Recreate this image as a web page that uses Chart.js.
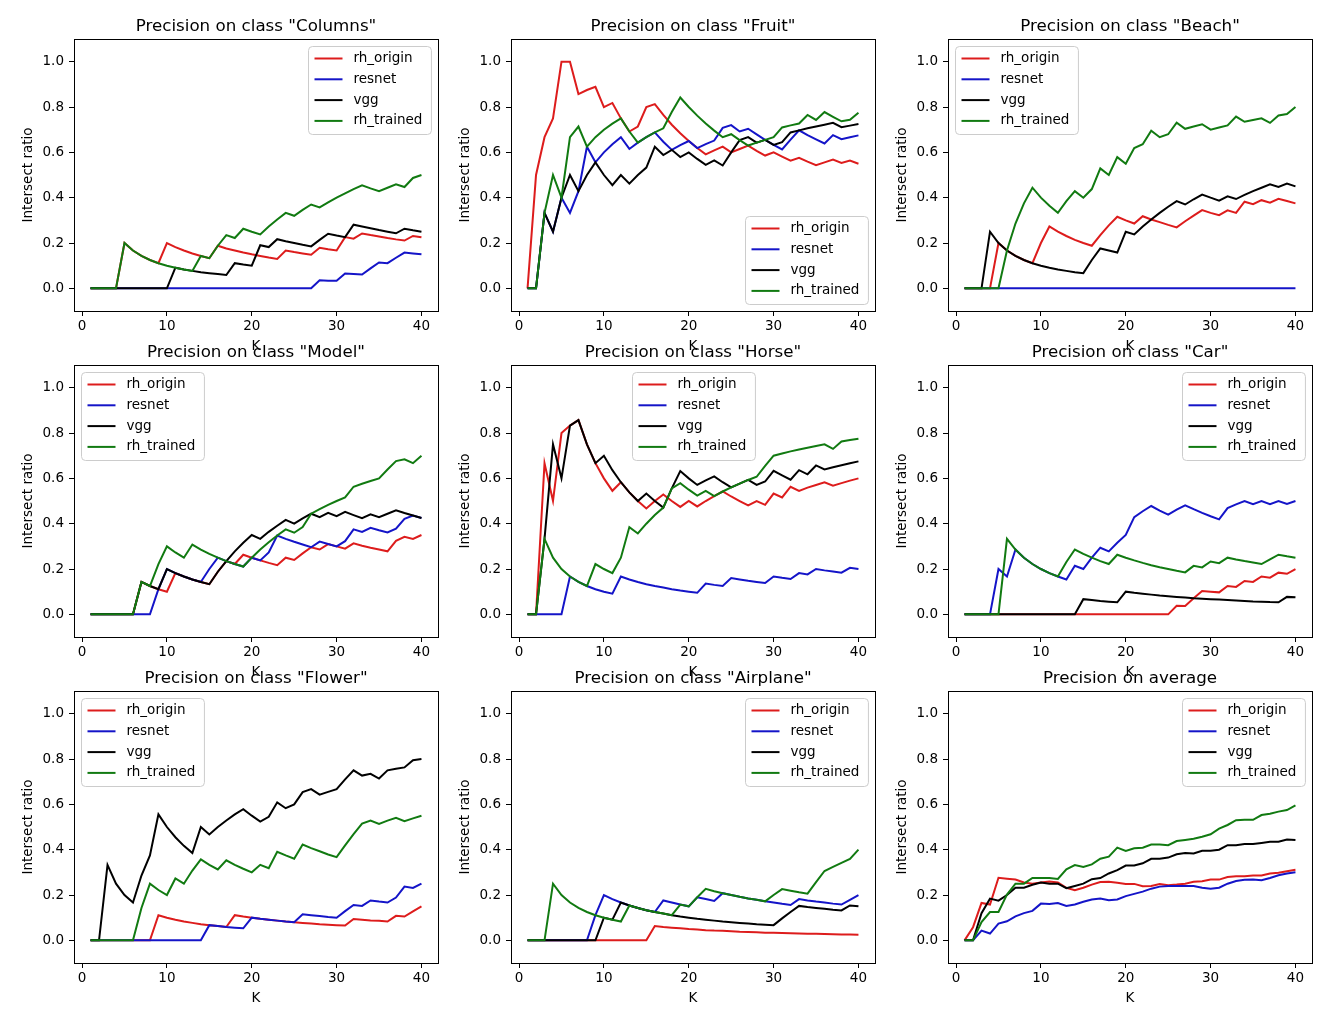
<!DOCTYPE html>
<html>
<head>
<meta charset="utf-8">
<script src="https://cdn.jsdelivr.net/npm/chart.js@4.4.1/dist/chart.umd.min.js"></script>
<style>
  body { margin: 0; background: #fff; }
  #fig { position: relative; width: 1341px; height: 1023px; overflow: hidden; }
  #fig canvas { position: absolute; }
</style>
</head>
<body>
<div id="fig"></div>
<script>
// K values and tick labels
const K = [1,2,3,4,5,6,7,8,9,10,11,12,13,14,15,16,17,18,19,20,21,22,23,24,25,26,27,28,29,30,31,32,33,34,35,36,37,38,39,40];
const X_TICKS = [0, 10, 20, 30, 40];
const Y_TICKS = [0.0, 0.2, 0.4, 0.6, 0.8, 1.0];
const SERIES_NAMES = ['rh_origin', 'resnet', 'vgg', 'rh_trained'];

// Columns
const columnsOrigin = [0,0,0,0,0.2,0.167,0.143,0.125,0.111,0.2,0.182,0.167,0.154,0.143,0.133,0.188,0.176,0.167,0.158,0.15,0.143,0.136,0.13,0.167,0.16,0.154,0.148,0.179,0.172,0.167,0.226,0.219,0.242,0.235,0.229,0.222,0.216,0.211,0.231,0.225];
const columnsResnet = [0,0,0,0,0,0,0,0,0,0,0,0,0,0,0,0,0,0,0,0,0,0,0,0,0,0,0,0.036,0.034,0.033,0.065,0.063,0.061,0.088,0.114,0.111,0.135,0.158,0.154,0.15];
const columnsVgg = [0,0,0,0,0,0,0,0,0,0,0.091,0.083,0.077,0.071,0.067,0.063,0.059,0.111,0.105,0.1,0.19,0.182,0.217,0.208,0.2,0.192,0.185,0.214,0.241,0.233,0.226,0.281,0.273,0.265,0.257,0.25,0.243,0.263,0.256,0.25];
const columnsTrained = [0,0,0,0,0.2,0.167,0.143,0.125,0.111,0.1,0.091,0.083,0.077,0.143,0.133,0.188,0.235,0.222,0.263,0.25,0.238,0.273,0.304,0.333,0.32,0.346,0.37,0.357,0.379,0.4,0.419,0.438,0.455,0.441,0.429,0.444,0.459,0.447,0.487,0.5];

// Fruit
const fruitOrigin = [0,0.5,0.667,0.75,1,1,0.857,0.875,0.889,0.8,0.818,0.75,0.692,0.714,0.8,0.813,0.765,0.722,0.684,0.65,0.619,0.591,0.609,0.625,0.6,0.615,0.63,0.607,0.586,0.6,0.581,0.563,0.576,0.559,0.543,0.556,0.568,0.553,0.564,0.55];
const fruitResnet = [0,0,0.333,0.25,0.4,0.333,0.429,0.625,0.556,0.6,0.636,0.667,0.615,0.643,0.667,0.688,0.647,0.611,0.632,0.65,0.619,0.636,0.652,0.708,0.72,0.692,0.704,0.679,0.655,0.633,0.613,0.656,0.697,0.676,0.657,0.639,0.676,0.658,0.667,0.675];
const fruitVgg = [0,0,0.333,0.25,0.4,0.5,0.429,0.5,0.556,0.5,0.455,0.5,0.462,0.5,0.533,0.625,0.588,0.611,0.579,0.6,0.571,0.545,0.565,0.542,0.6,0.654,0.667,0.643,0.655,0.633,0.645,0.688,0.697,0.706,0.714,0.722,0.73,0.711,0.718,0.725];
const fruitTrained = [0,0,0.333,0.5,0.4,0.667,0.714,0.625,0.667,0.7,0.727,0.75,0.692,0.643,0.667,0.688,0.706,0.778,0.842,0.8,0.762,0.727,0.696,0.667,0.68,0.654,0.63,0.643,0.655,0.667,0.71,0.719,0.727,0.765,0.743,0.778,0.757,0.737,0.744,0.775];

// Beach
const beachOrigin = [0,0,0,0,0.2,0.167,0.143,0.125,0.111,0.2,0.273,0.25,0.231,0.214,0.2,0.188,0.235,0.278,0.316,0.3,0.286,0.318,0.304,0.292,0.28,0.269,0.296,0.321,0.345,0.333,0.323,0.344,0.333,0.382,0.371,0.389,0.378,0.395,0.385,0.375];
const beachResnet = [0,0,0,0,0,0,0,0,0,0,0,0,0,0,0,0,0,0,0,0,0,0,0,0,0,0,0,0,0,0,0,0,0,0,0,0,0,0,0,0];
const beachVgg = [0,0,0,0.25,0.2,0.167,0.143,0.125,0.111,0.1,0.091,0.083,0.077,0.071,0.067,0.125,0.176,0.167,0.158,0.25,0.238,0.273,0.304,0.333,0.36,0.385,0.37,0.393,0.414,0.4,0.387,0.406,0.394,0.412,0.429,0.444,0.459,0.447,0.462,0.45];
const beachTrained = [0,0,0,0,0,0.167,0.286,0.375,0.444,0.4,0.364,0.333,0.385,0.429,0.4,0.438,0.529,0.5,0.579,0.55,0.619,0.636,0.696,0.667,0.68,0.731,0.704,0.714,0.724,0.7,0.71,0.719,0.758,0.735,0.743,0.75,0.73,0.763,0.769,0.8];

// Model
const modelOrigin = [0,0,0,0,0,0,0.143,0.125,0.111,0.1,0.182,0.167,0.154,0.143,0.133,0.188,0.235,0.222,0.263,0.25,0.238,0.227,0.217,0.25,0.24,0.269,0.296,0.286,0.31,0.3,0.29,0.313,0.303,0.294,0.286,0.278,0.324,0.342,0.333,0.35];
const modelResnet = [0,0,0,0,0,0,0,0,0.111,0.2,0.182,0.167,0.154,0.143,0.2,0.25,0.235,0.222,0.211,0.25,0.238,0.273,0.348,0.333,0.32,0.308,0.296,0.321,0.31,0.3,0.323,0.375,0.364,0.382,0.371,0.361,0.378,0.421,0.436,0.425];
const modelVgg = [0,0,0,0,0,0,0.143,0.125,0.111,0.2,0.182,0.167,0.154,0.143,0.133,0.188,0.235,0.278,0.316,0.35,0.333,0.364,0.391,0.417,0.4,0.423,0.444,0.429,0.448,0.433,0.452,0.438,0.424,0.441,0.429,0.444,0.459,0.447,0.436,0.425];
const modelTrained = [0,0,0,0,0,0,0.143,0.125,0.222,0.3,0.273,0.25,0.308,0.286,0.267,0.25,0.235,0.222,0.211,0.25,0.286,0.318,0.348,0.375,0.36,0.385,0.444,0.464,0.483,0.5,0.516,0.563,0.576,0.588,0.6,0.639,0.676,0.684,0.667,0.7];

// Horse
const horseOrigin = [0,0,0.667,0.5,0.8,0.833,0.857,0.75,0.667,0.6,0.545,0.583,0.538,0.5,0.467,0.5,0.529,0.5,0.474,0.5,0.476,0.5,0.522,0.542,0.52,0.5,0.481,0.5,0.483,0.533,0.516,0.563,0.545,0.559,0.571,0.583,0.568,0.579,0.59,0.6];
const horseResnet = [0,0,0,0,0,0.167,0.143,0.125,0.111,0.1,0.091,0.167,0.154,0.143,0.133,0.125,0.118,0.111,0.105,0.1,0.095,0.136,0.13,0.125,0.16,0.154,0.148,0.143,0.138,0.167,0.161,0.156,0.182,0.176,0.2,0.194,0.189,0.184,0.205,0.2];
const horseVgg = [0,0,0.333,0.75,0.6,0.833,0.857,0.75,0.667,0.7,0.636,0.583,0.538,0.5,0.533,0.5,0.471,0.556,0.632,0.6,0.571,0.591,0.609,0.583,0.56,0.577,0.593,0.571,0.586,0.633,0.613,0.594,0.636,0.618,0.657,0.639,0.649,0.658,0.667,0.675];
const horseTrained = [0,0,0.333,0.25,0.2,0.167,0.143,0.125,0.222,0.2,0.182,0.25,0.385,0.357,0.4,0.438,0.471,0.556,0.579,0.55,0.524,0.545,0.522,0.542,0.56,0.577,0.593,0.607,0.655,0.7,0.71,0.719,0.727,0.735,0.743,0.75,0.73,0.763,0.769,0.775];

// Car
const carOrigin = [0,0,0,0,0,0,0,0,0,0,0,0,0,0,0,0,0,0,0,0,0,0,0,0,0,0.038,0.037,0.071,0.103,0.1,0.097,0.125,0.121,0.147,0.143,0.167,0.162,0.184,0.179,0.2];
const carResnet = [0,0,0,0,0.2,0.167,0.286,0.25,0.222,0.2,0.182,0.167,0.154,0.214,0.2,0.25,0.294,0.278,0.316,0.35,0.429,0.455,0.478,0.458,0.44,0.462,0.481,0.464,0.448,0.433,0.419,0.469,0.485,0.5,0.486,0.5,0.486,0.5,0.487,0.5];
const carVgg = [0,0,0,0,0,0,0,0,0,0,0,0,0,0,0.067,0.063,0.059,0.056,0.053,0.1,0.095,0.091,0.087,0.083,0.08,0.077,0.074,0.071,0.069,0.067,0.065,0.063,0.061,0.059,0.057,0.056,0.054,0.053,0.077,0.075];
const carTrained = [0,0,0,0,0,0.333,0.286,0.25,0.222,0.2,0.182,0.167,0.231,0.286,0.267,0.25,0.235,0.222,0.263,0.25,0.238,0.227,0.217,0.208,0.2,0.192,0.185,0.214,0.207,0.233,0.226,0.25,0.242,0.235,0.229,0.222,0.243,0.263,0.256,0.25];

// Flower
const flowerOrigin = [0,0,0,0,0,0,0,0,0.111,0.1,0.091,0.083,0.077,0.071,0.067,0.063,0.059,0.111,0.105,0.1,0.095,0.091,0.087,0.083,0.08,0.077,0.074,0.071,0.069,0.067,0.065,0.094,0.091,0.088,0.086,0.083,0.108,0.105,0.128,0.15];
const flowerResnet = [0,0,0,0,0,0,0,0,0,0,0,0,0,0,0.067,0.063,0.059,0.056,0.053,0.1,0.095,0.091,0.087,0.083,0.08,0.115,0.111,0.107,0.103,0.1,0.129,0.156,0.152,0.176,0.171,0.167,0.189,0.237,0.231,0.25];
const flowerVgg = [0,0,0.333,0.25,0.2,0.167,0.286,0.375,0.556,0.5,0.455,0.417,0.385,0.5,0.467,0.5,0.529,0.556,0.579,0.55,0.524,0.545,0.609,0.583,0.6,0.654,0.667,0.643,0.655,0.667,0.71,0.75,0.727,0.735,0.714,0.75,0.757,0.763,0.795,0.8];
const flowerTrained = [0,0,0,0,0,0,0.143,0.25,0.222,0.2,0.273,0.25,0.308,0.357,0.333,0.313,0.353,0.333,0.316,0.3,0.333,0.318,0.391,0.375,0.36,0.423,0.407,0.393,0.379,0.367,0.419,0.469,0.515,0.529,0.514,0.528,0.541,0.526,0.538,0.55];

// Airplane
const airplaneOrigin = [0,0,0,0,0,0,0,0,0,0,0,0,0,0,0,0.063,0.059,0.056,0.053,0.05,0.048,0.045,0.043,0.042,0.04,0.038,0.037,0.036,0.034,0.033,0.032,0.031,0.03,0.029,0.029,0.028,0.027,0.026,0.026,0.025];
const airplaneResnet = [0,0,0,0,0,0,0,0,0.111,0.2,0.182,0.167,0.154,0.143,0.133,0.125,0.176,0.167,0.158,0.15,0.19,0.182,0.174,0.208,0.2,0.192,0.185,0.179,0.172,0.167,0.161,0.156,0.182,0.176,0.171,0.167,0.162,0.158,0.179,0.2];
const airplaneVgg = [0,0,0,0,0,0,0,0,0,0.1,0.091,0.167,0.154,0.143,0.133,0.125,0.118,0.111,0.105,0.1,0.095,0.091,0.087,0.083,0.08,0.077,0.074,0.071,0.069,0.067,0.097,0.125,0.152,0.147,0.143,0.139,0.135,0.132,0.154,0.15];
const airplaneTrained = [0,0,0,0.25,0.2,0.167,0.143,0.125,0.111,0.1,0.091,0.083,0.154,0.143,0.133,0.125,0.118,0.111,0.158,0.15,0.19,0.227,0.217,0.208,0.2,0.192,0.185,0.179,0.172,0.2,0.226,0.219,0.212,0.206,0.257,0.306,0.324,0.342,0.359,0.4];

// Average
const averageOrigin = [0,0.058,0.165,0.158,0.276,0.272,0.268,0.255,0.25,0.255,0.26,0.255,0.232,0.221,0.232,0.246,0.257,0.258,0.254,0.249,0.249,0.239,0.24,0.249,0.243,0.246,0.25,0.258,0.261,0.268,0.268,0.279,0.283,0.283,0.286,0.286,0.295,0.298,0.305,0.311];
const averageResnet = [0,0,0.043,0.03,0.074,0.084,0.106,0.12,0.13,0.162,0.16,0.165,0.152,0.158,0.17,0.18,0.185,0.177,0.18,0.195,0.205,0.215,0.228,0.237,0.24,0.24,0.24,0.24,0.232,0.228,0.232,0.25,0.262,0.267,0.268,0.265,0.275,0.287,0.295,0.3];
const averageVgg = [0,0,0.12,0.184,0.175,0.2,0.232,0.232,0.245,0.255,0.25,0.25,0.23,0.24,0.25,0.27,0.275,0.295,0.31,0.33,0.33,0.34,0.36,0.36,0.365,0.38,0.385,0.383,0.395,0.395,0.4,0.42,0.42,0.425,0.425,0.43,0.435,0.435,0.445,0.443];
const averageTrained = [0,0,0.081,0.125,0.125,0.202,0.25,0.25,0.275,0.275,0.275,0.271,0.313,0.332,0.324,0.335,0.36,0.369,0.409,0.394,0.406,0.409,0.423,0.423,0.42,0.438,0.443,0.448,0.457,0.468,0.493,0.509,0.53,0.532,0.532,0.553,0.559,0.568,0.575,0.596];

const panels = [
  { title: 'Precision on class "Columns"', legend: 'upper right', series: [columnsOrigin, columnsResnet, columnsVgg, columnsTrained] },
  { title: 'Precision on class "Fruit"', legend: 'lower right', series: [fruitOrigin, fruitResnet, fruitVgg, fruitTrained] },
  { title: 'Precision on class "Beach"', legend: 'upper left', series: [beachOrigin, beachResnet, beachVgg, beachTrained] },
  { title: 'Precision on class "Model"', legend: 'upper left', series: [modelOrigin, modelResnet, modelVgg, modelTrained] },
  { title: 'Precision on class "Horse"', legend: 'upper center', series: [horseOrigin, horseResnet, horseVgg, horseTrained] },
  { title: 'Precision on class "Car"', legend: 'upper right', series: [carOrigin, carResnet, carVgg, carTrained] },
  { title: 'Precision on class "Flower"', legend: 'upper left', series: [flowerOrigin, flowerResnet, flowerVgg, flowerTrained] },
  { title: 'Precision on class "Airplane"', legend: 'upper right', series: [airplaneOrigin, airplaneResnet, airplaneVgg, airplaneTrained] },
  { title: 'Precision on average', legend: 'upper right', series: [averageOrigin, averageResnet, averageVgg, averageTrained] },
];

// look
const COLORS = ['#dd1c1c', '#1414c8', '#000000', '#117a11'];
const FAMILY = '"DejaVu Sans", sans-serif';
const SMALL = 13.5;
const AX_LEFT = [74, 511, 948];
const AX_TOP = [39, 365, 691];
const AX_W = 364, AX_H = 272;
const M_LEFT = 70, M_TOP = 30, M_BOTTOM = 50, M_RIGHT = 14;

// frame round the plot area (matplotlib spines)
const framePlugin = {
  id: 'frame',
  afterDatasetsDraw(chart) {
    const { ctx, chartArea: a } = chart;
    ctx.save();
    ctx.strokeStyle = '#000';
    ctx.lineWidth = 1;
    ctx.strokeRect(Math.round(a.left) + 0.5, Math.round(a.top) + 0.5, Math.round(a.right - a.left), Math.round(a.bottom - a.top));
    ctx.restore();
  }
};

// matplotlib-like legend box inside the axes
const boxLegend = {
  id: 'boxLegend',
  afterDatasetsDraw(chart, args, opts) {
    const { ctx, chartArea: a } = chart;
    const sets = chart.data.datasets;
    ctx.save();
    ctx.font = SMALL + 'px ' + FAMILY;
    const textW = Math.max(...sets.map(d => ctx.measureText(d.label).width));
    const w = 45 + textW + 9, h = 88, inset = 7;
    let x = a.right - inset - w, y = a.top + inset;
    if (opts.loc === 'upper left') x = a.left + inset;
    if (opts.loc === 'upper center') x = (a.left + a.right - w) / 2;
    if (opts.loc === 'lower right') y = a.bottom - inset - h;
    x = Math.round(x) + 0.5; y = Math.round(y) + 0.5;

    ctx.beginPath();
    ctx.roundRect(x, y, w, h, 4);
    ctx.fillStyle = 'rgba(255,255,255,0.8)';
    ctx.fill();
    ctx.strokeStyle = '#cccccc';
    ctx.lineWidth = 1;
    ctx.stroke();

    sets.forEach((d, i) => {
      const ry = y + 12 + i * 20.8;
      ctx.beginPath();
      ctx.moveTo(x + 6, ry);
      ctx.lineTo(x + 34, ry);
      ctx.strokeStyle = d.borderColor;
      ctx.lineWidth = 2;
      ctx.stroke();
      ctx.fillStyle = '#000';
      ctx.textBaseline = 'middle';
      ctx.fillText(d.label, x + 45, ry);
    });
    ctx.restore();
  }
};

const fig = document.getElementById('fig');

panels.forEach((p, idx) => {
  const row = Math.floor(idx / 3), col = idx % 3;
  const canvas = document.createElement('canvas');
  canvas.width = M_LEFT + AX_W + M_RIGHT;
  canvas.height = M_TOP + AX_H + M_BOTTOM;
  canvas.style.left = (AX_LEFT[col] - M_LEFT) + 'px';
  canvas.style.top = (AX_TOP[row] - M_TOP) + 'px';
  fig.appendChild(canvas);

  const font = { family: FAMILY, size: SMALL };

  new Chart(canvas, {
    type: 'line',
    data: {
      datasets: SERIES_NAMES.map((name, s) => ({
        label: name,
        data: p.series[s].map((v, i) => ({ x: K[i], y: v })),
        borderColor: COLORS[s],
        borderWidth: 2,
        pointRadius: 0,
        tension: 0,
        fill: false,
        order: 4 - s          // green drawn last, like matplotlib
      }))
    },
    options: {
      responsive: false,
      animation: false,
      devicePixelRatio: 1,
      layout: { padding: { left: 0, right: M_RIGHT, top: 0, bottom: 0 } },
      plugins: {
        legend: { display: false },
        tooltip: { enabled: false },
        title: {
          display: true,
          text: p.title,
          fullSize: false,
          color: '#000',
          font: { family: FAMILY, size: 16.7, weight: 'normal', lineHeight: 1.2 },
          padding: { top: 8, bottom: 2 }
        },
        boxLegend: { loc: p.legend }
      },
      scales: {
        x: {
          type: 'linear',
          min: -0.95,
          max: 41.95,
          afterBuildTicks: s => { s.ticks = X_TICKS.map(v => ({ value: v })); },
          afterFit: s => { s.height = M_BOTTOM; },
          grid: { drawOnChartArea: false, drawTicks: true, tickLength: 5, color: '#000' },
          border: { display: false },
          ticks: { color: '#000', font, padding: 2, maxRotation: 0, autoSkip: false, callback: v => String(v) },
          title: { display: true, text: 'K', color: '#000', font, padding: { top: 0, bottom: 6 } }
        },
        y: {
          type: 'linear',
          min: -0.1,
          max: 1.1,
          afterBuildTicks: s => { s.ticks = Y_TICKS.map(v => ({ value: v })); },
          afterFit: s => { s.width = M_LEFT; },
          grid: { drawOnChartArea: false, drawTicks: true, tickLength: 5, color: '#000' },
          border: { display: false },
          ticks: { color: '#000', font, padding: 5, callback: v => v.toFixed(1) },
          title: { display: true, text: 'Intersect ratio', color: '#000', font, padding: { top: 16, bottom: 0 } }
        }
      }
    },
    plugins: [framePlugin, boxLegend]
  });
});
</script>
</body>
</html>
